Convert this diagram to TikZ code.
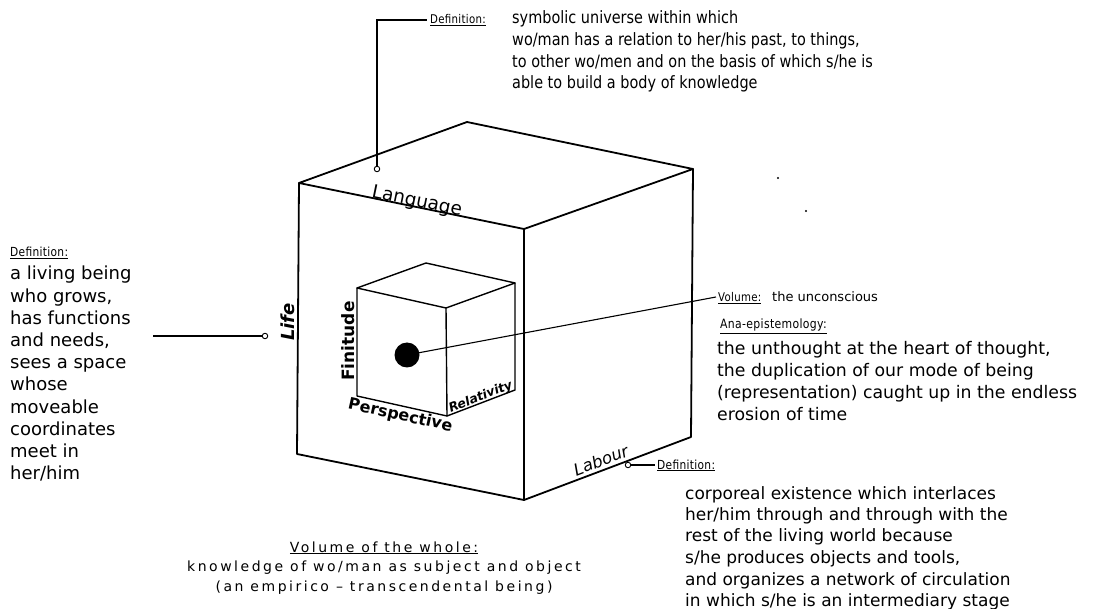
\documentclass[tikz,border=0pt]{standalone}
\usepackage{graphicx}
\usepackage{fontspec}
\setmainfont{DejaVu Sans}
\newfontfamily\lblfont{DejaVu Sans}[LetterSpace=3]
\newfontfamily\wholefont{DejaVu Sans}[LetterSpace=18]
\newcommand\Ltab[1]{\begin{tabular}[t]{@{}l@{}}#1\end{tabular}}
\newcommand\Ctab[1]{\begin{tabular}[t]{@{}c@{}}#1\end{tabular}}
\newcommand\lbltext[1]{\scalebox{0.85}[1]{\underline{#1}}}
\begin{document}
\begin{tikzpicture}[x=1pt,y=-1pt,
  cube/.style={line width=1.8pt, line join=round, line cap=round},
  icube/.style={line width=1.4pt, line join=round, line cap=round},
  leader/.style={line width=1.1pt},
  ring/.style={circle, draw, line width=0.9pt, inner sep=0, minimum size=5.5pt, fill=white},
  body/.style={inner sep=0, anchor=base west, font=\fontsize{17}{21.5}\selectfont},
  tag/.style={inner sep=0, anchor=base west, font=\lblfont\fontsize{12.5}{14}\selectfont},
  cubelab/.style={inner sep=0}]
\useasboundingbox (0,0) rectangle (1106,609);
% big cube
\coordinate (A) at (299,183);
\coordinate (B) at (467,122);
\coordinate (C) at (693,169);
\coordinate (D) at (524,229);
\coordinate (E) at (297,454);
\coordinate (F) at (524,500);
\coordinate (G) at (691,437);
\draw[cube] (A) -- (B) -- (C) -- (D) -- cycle;
\draw[cube] (A) -- (E) -- (F) -- (G) -- (C);
\draw[cube] (D) -- (F);
% inner cube
\coordinate (a) at (357,288);
\coordinate (b) at (446,308);
\coordinate (c) at (447,416);
\coordinate (d) at (357,396);
\coordinate (e) at (515,283);
\coordinate (f) at (515,390);
\coordinate (g) at (426,263);
\draw[icube] (a) -- (g) -- (e) -- (b) -- cycle;
\draw[icube] (a) -- (d) -- (c) -- (f) -- (e);
\draw[icube] (b) -- (c);
% dot and its leader
\coordinate (volend) at (716,297);
\draw[leader] (407,355) coordinate (dotc) -- (volend);
\node[circle, fill, inner sep=0, minimum size=25pt] (dot) at (dotc) {};
% leaders
\node[ring] (langring) at (377,169) {};
\coordinate (topcorner) at (377,20);
\coordinate (topend) at (427,20);
\draw[leader] (langring.north) -- (topcorner) -- (topend);
\node[ring] (lifering) at (265,336) {};
\coordinate (lifeend) at (153,336);
\draw[leader] (lifeend) -- (lifering.west);
\node[ring] (labring) at (628,465) {};
\coordinate (labend) at (655,465);
\draw[leader] (labring.east) -- (labend);
% scan specks
\fill (778,178) circle (1.2);
\fill (806,211) circle (1.2);
% cube labels
\node[cubelab, anchor=base west, rotate=-11.6, font=\fontsize{18.5}{22}\selectfont] (lang) at (371,197.3) {Language};
\node[cubelab, anchor=base, rotate=90, font=\bfseries\itshape\fontsize{18}{22}\selectfont] (life) at (294,322) {Life};
\node[cubelab, anchor=base, rotate=90, font=\bfseries\fontsize{17}{20}\selectfont] (finit) at (354,341) {Finitude};
\node[cubelab, anchor=north, rotate=-12.5, font=\bfseries\fontsize{16}{20}\selectfont] (persp) at (402,408) {Perspective};
\node[cubelab, anchor=base, rotate=21.7, font=\bfseries\itshape\fontsize{12.5}{15}\selectfont] (relat) at (482,400.5) {Relativity};
\node[cubelab, anchor=base, rotate=20.8, font=\itshape\fontsize{16.5}{20}\selectfont] (labour) at (603,466) {Labour};
% top definition
\node[tag, font=\lblfont\fontsize{12}{14}\selectfont] (deftop) at (430,24) {\lbltext{Definition:}};
\node[body, font=\fontsize{17}{21.6}\selectfont] (toptext) at (512,24) {\scalebox{0.85}[1]{\Ltab{symbolic universe within which\\ wo/man has a relation to her/his past, to things,\\ to other wo/men and on the basis of which s/he is\\ able to build a body of knowledge}}};
% left definition
\node[tag] (defleft) at (10,257) {\lbltext{Definition:}};
\node[body, font=\fontsize{18}{22.2}\selectfont] (lefttext) at (10,280) {\Ltab{a living being\\ who grows,\\ has functions\\ and needs,\\ sees a space\\ whose\\ moveable\\ coordinates\\ meet in\\ her/him}};
% volume
\node[tag, font=\lblfont\fontsize{12}{14}\selectfont] (volname) at (718,302) {\lbltext{Volume:}};
\node[body, font=\fontsize{13}{16}\selectfont] (voltext) at (772,302) {the unconscious};
\node[tag, font=\lblfont\fontsize{12.8}{14}\selectfont] (ananame) at (720,329) {\lbltext{Ana-epistemology:}};
\node[body, font=\fontsize{17.3}{21.8}\selectfont] (anatext) at (717,355) {\Ltab{the unthought at the heart of thought,\\ the duplication of our mode of being\\ (representation) caught up in the endless\\ erosion of time}};
% labour definition
\node[tag] (defright) at (657,469) {\lbltext{Definition:}};
\node[body] (labtext) at (685,499) {\Ltab{corporeal existence which interlaces\\ her/him through and through with the\\ rest of the living world because\\ s/he produces objects and tools,\\ and organizes a network of circulation\\ in which s/he is an intermediary stage}};
% whole
\node[inner sep=0, anchor=base, font=\wholefont\fontsize{14}{19.5}\selectfont] (whole) at (384,552) {\Ctab{\underline{Volume of the whole:}\\ knowledge of wo/man as subject and object\\ (an empirico – transcendental being)}};
\end{tikzpicture}
\end{document}
